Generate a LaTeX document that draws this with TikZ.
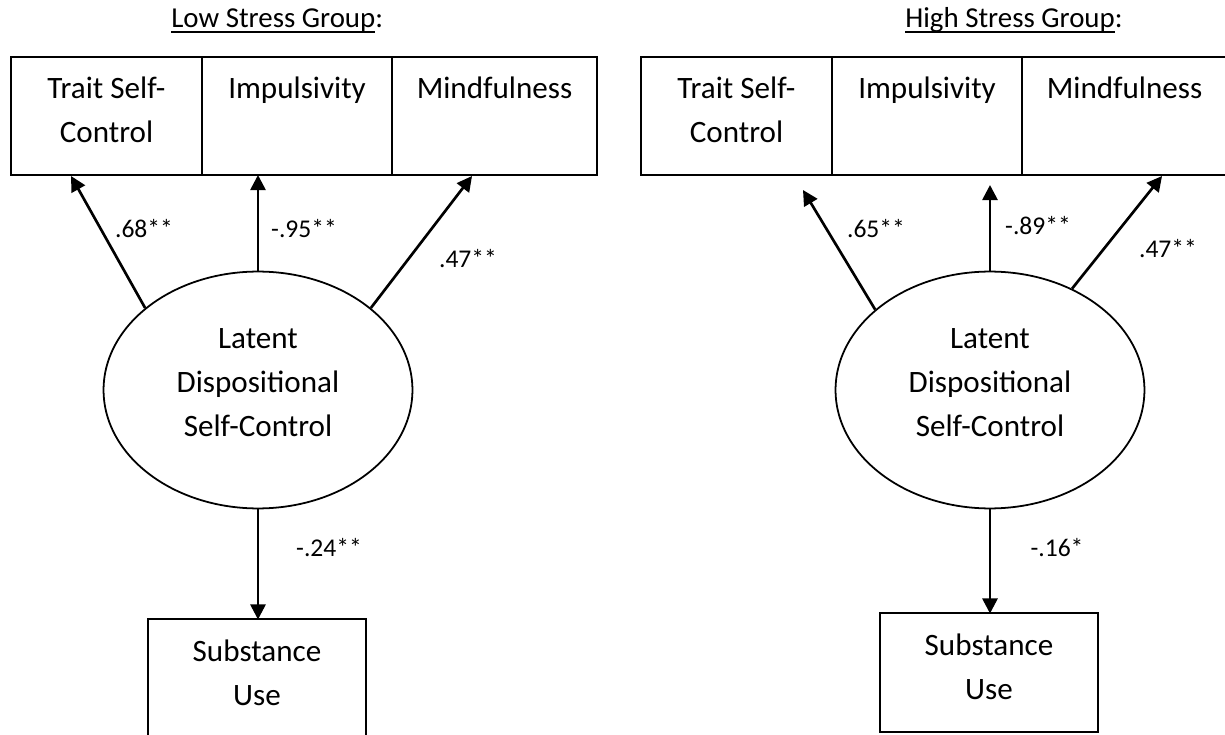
\documentclass[tikz,border=0pt]{standalone}
\usepackage{fontspec}
\setmainfont{Carlito}
\usetikzlibrary{arrows.meta,positioning,calc,shapes.geometric}

\newcommand{\grouptitle}[1]{\setbox0\hbox{#1}\rlap{\copy0}\rule[-2.2pt]{\wd0}{0.8pt}}

\begin{document}
\begin{tikzpicture}[x=0.45pt, y=-0.45pt, ->, >={Triangle[length=6.8pt,width=6.8pt]}, line width=1.2pt]
\tikzstyle{every node}=[font=\fontsize{14}{20}\selectfont, text=black]
\tikzstyle{obsbox}=[draw, rectangle, line width=0.9pt, inner sep=0pt, outer sep=0pt, minimum height=53.1pt, align=center, text height=38.7pt, text depth=14.4pt]
\tikzstyle{oneline}=[text height=18.6pt, text depth=34.5pt]
\tikzstyle{latent}=[draw, ellipse, line width=0.8pt, inner sep=0pt, minimum width=139pt, minimum height=106.6pt, align=center, text height=42.3pt, text depth=0pt]
\tikzstyle{coef}=[font=\fontsize{11.5}{14}\selectfont, anchor=base, inner sep=0pt]
\tikzstyle{heading}=[font=\fontsize{13}{16}\selectfont, anchor=base west, inner sep=0pt]
\useasboundingbox (0,0) rectangle (1225,735);

% low stress group
\node[heading] (ttl1) at (170,28) {\grouptitle{Low Stress Group}:};
\node[obsbox, minimum width=86pt] (tsc1) at (106.5,116) {Trait Self-\\Control};
\node[obsbox, oneline, minimum width=85.5pt, right=0pt of tsc1] (imp1) {Impulsivity};
\node[obsbox, oneline, minimum width=92.25pt, right=0pt of imp1] (mind1) {Mindfulness};
\node[latent] (lat1) at (258,390) {Latent\\Dispositional\\Self-Control};
\node[obsbox, minimum width=98.1pt] (su1) at (257,678.5) {Substance\\Use};
\path
(lat1.144)   edge ($(tsc1.south)+(-35.5,1)$)
(lat1.north) edge (lat1.north |- imp1.south)
(lat1.36)    edge ($(mind1.south)+(-22.5,1)$)
(lat1.south) edge (lat1.south |- su1.north);
\node[coef] (c11) at (144,238) {.68**};
\node[coef] (c12) at (304,238) {-.95**};
\node[coef] (c13) at (468,268) {.47**};
\node[coef] (c14) at (329,557) {-.24**};

% high stress group
\node[heading] (ttl2) at (904,28) {\grouptitle{High Stress Group}:};
\node[obsbox, minimum width=86pt] (tsc2) at (736.5,116) {Trait Self-\\Control};
\node[obsbox, oneline, minimum width=85.5pt, right=0pt of tsc2] (imp2) {Impulsivity};
\node[obsbox, oneline, minimum width=92.25pt, right=0pt of imp2] (mind2) {Mindfulness};
\node[latent] (lat2) at (990,390) {Latent\\Dispositional\\Self-Control};
\node[obsbox, minimum width=98.1pt] (su2) at (989,672.5) {Substance\\Use};
\path
(lat2.145)   edge ($(tsc2.south)+(66.5,15)$)
(lat2.north) edge ($(lat2.north |- imp2.south)+(0,10)$)
(lat2.51)    edge ($(mind2.south)+(37.5,1)$)
(lat2.south) edge (lat2.south |- su2.north);
\node[coef] (c21) at (876,238) {.65**};
\node[coef] (c22) at (1038,235) {-.89**};
\node[coef] (c23) at (1168,258) {.47**};
\node[coef] (c24) at (1057,557) {-.16*};
\end{tikzpicture}
\end{document}
